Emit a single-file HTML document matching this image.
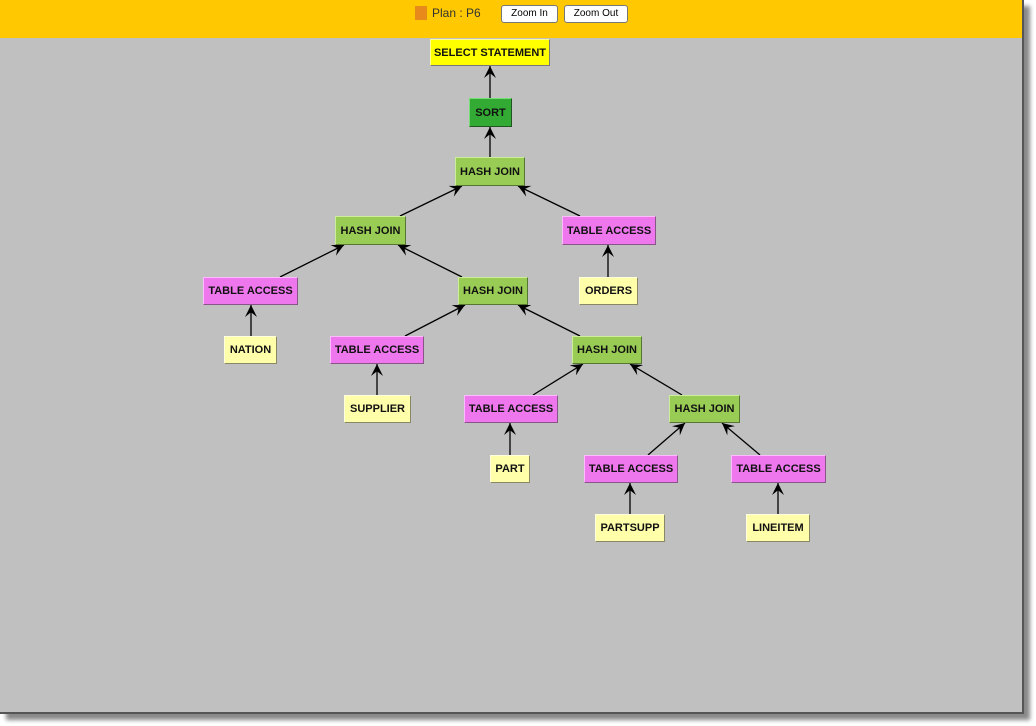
<!DOCTYPE html>
<html><head><style>
body{margin:0;width:1036px;height:726px;background:#fff;position:relative;overflow:hidden;font-family:"Liberation Sans",Arial,sans-serif}
#shadow{position:absolute;left:6px;top:6px;width:1024px;height:714px;background:#888;filter:blur(2px)}
#main{position:absolute;left:0;top:0;width:1024px;height:714px;background:#c0c0c0;border-right:2px solid #555;border-bottom:2px solid #555;box-sizing:border-box}
#hdr{position:absolute;left:0;top:0;width:1022px;height:38px;background:#ffc800}
.sq{position:absolute;left:415px;top:6px;width:12px;height:14px;background:#e8891c}
.plan{position:absolute;left:432px;top:6px;font-size:12px;color:#333}
.btn{position:absolute;top:5px;height:16px;background:#fff;border:1px solid #777;border-radius:3px;font-size:10px;text-align:center;line-height:16px;color:#000}
.n{position:absolute;box-sizing:border-box;font-size:11px;font-weight:bold;text-align:center;color:#111;border:1px solid;border-color:#fff #555 #555 #fff;display:flex;align-items:center;justify-content:center}
.y{background:#ffff00;border-color:#ffff99 #777 #777 #ffff99}
.dg{background:#33aa33;border-color:#77dd77 #225522 #225522 #77dd77}
.g{background:#99cc55;border-color:#ccee99 #557733 #557733 #ccee99}
.p{background:#ee77ee;border-color:#ffbbff #885588 #885588 #ffbbff}
.l{background:#ffffaa;border-color:#ffffdd #888866 #888866 #ffffdd}
svg{position:absolute;left:0;top:0}
</style></head><body>
<div id="shadow"></div>
<div id="main"></div>
<div id="hdr"></div>
<div class="sq"></div><div class="plan">Plan : P6</div>
<div class="btn" style="left:501px;width:55px">Zoom In</div>
<div class="btn" style="left:564px;width:62px">Zoom Out</div>
<svg width="1036" height="726">
<defs><marker id="a" viewBox="0 0 10 10" refX="10" refY="5" markerWidth="12" markerHeight="12" markerUnits="userSpaceOnUse" orient="auto"><path d="M0,0 L10,5 L0,10 L4,5 z" fill="#000"/></marker></defs>
<g stroke="#000" stroke-width="1.3" marker-end="url(#a)">
<line x1="490" y1="98" x2="490" y2="66"/>
<line x1="490" y1="157" x2="490" y2="127"/>
<line x1="400" y1="216" x2="462" y2="186"/>
<line x1="580" y1="216" x2="518" y2="186"/>
<line x1="280" y1="277" x2="344" y2="245"/>
<line x1="462" y1="277" x2="398" y2="245"/>
<line x1="608" y1="277" x2="608" y2="245"/>
<line x1="251" y1="336" x2="251" y2="305"/>
<line x1="405" y1="336" x2="465" y2="305"/>
<line x1="580" y1="336" x2="518" y2="305"/>
<line x1="377" y1="395" x2="377" y2="364"/>
<line x1="533" y1="395" x2="583" y2="364"/>
<line x1="682" y1="395" x2="630" y2="364"/>
<line x1="510" y1="455" x2="510" y2="423"/>
<line x1="648" y1="455" x2="685" y2="423"/>
<line x1="760" y1="455" x2="722" y2="423"/>
<line x1="630" y1="514" x2="630" y2="483"/>
<line x1="778" y1="514" x2="778" y2="483"/>
</g></svg>
<div class="n y" style="left:430px;top:39px;width:120px;height:27px">SELECT STATEMENT</div>
<div class="n dg" style="left:469px;top:98px;width:43px;height:29px">SORT</div>
<div class="n g" style="left:455px;top:157px;width:70px;height:29px">HASH JOIN</div>
<div class="n g" style="left:335px;top:216px;width:71px;height:29px">HASH JOIN</div>
<div class="n p" style="left:562px;top:216px;width:94px;height:29px">TABLE ACCESS</div>
<div class="n p" style="left:203px;top:277px;width:95px;height:28px">TABLE ACCESS</div>
<div class="n g" style="left:458px;top:277px;width:70px;height:28px">HASH JOIN</div>
<div class="n l" style="left:579px;top:277px;width:59px;height:28px">ORDERS</div>
<div class="n l" style="left:224px;top:336px;width:53px;height:28px">NATION</div>
<div class="n p" style="left:330px;top:336px;width:94px;height:28px">TABLE ACCESS</div>
<div class="n g" style="left:572px;top:336px;width:70px;height:28px">HASH JOIN</div>
<div class="n l" style="left:344px;top:395px;width:67px;height:28px">SUPPLIER</div>
<div class="n p" style="left:464px;top:395px;width:94px;height:28px">TABLE ACCESS</div>
<div class="n g" style="left:669px;top:395px;width:71px;height:28px">HASH JOIN</div>
<div class="n l" style="left:490px;top:455px;width:40px;height:28px">PART</div>
<div class="n p" style="left:584px;top:455px;width:94px;height:28px">TABLE ACCESS</div>
<div class="n p" style="left:731px;top:455px;width:95px;height:28px">TABLE ACCESS</div>
<div class="n l" style="left:595px;top:514px;width:70px;height:28px">PARTSUPP</div>
<div class="n l" style="left:746px;top:514px;width:64px;height:28px">LINEITEM</div>
</body></html>
